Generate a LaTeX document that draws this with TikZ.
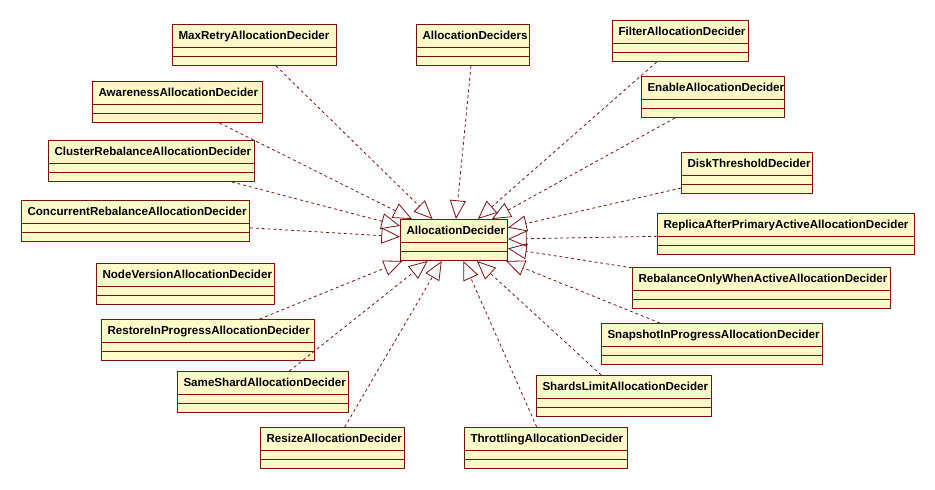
\documentclass[tikz,border=0pt]{standalone}
\usepackage{fontspec}
\setmainfont{Liberation Sans}
\usetikzlibrary{arrows.meta}
\definecolor{umlred}{RGB}{128,16,16}
\definecolor{umlfill}{RGB}{255,251,200}
\hyphenpenalty=10000
\tikzset{
  classbox/.style={draw=umlred, fill=umlfill, line width=0.75pt, anchor=north west,
    text width=#1, align=left, inner xsep=4.5pt, inner ysep=0pt,
    text height=11.25pt, text depth=19.5pt,
    font=\fontsize{8.7}{10}\selectfont\bfseries,
    path picture={
      \draw[umlred, line width=0.75pt] ([yshift=6.75pt]path picture bounding box.south west) -- ([yshift=6.75pt]path picture bounding box.south east);
      \draw[umlred, line width=0.75pt] ([yshift=13.5pt]path picture bounding box.south west) -- ([yshift=13.5pt]path picture bounding box.south east);
    }},
  realize/.style={draw=umlred, line width=0.6pt, dash pattern=on 2.2pt off 2.2pt,
    -{Triangle[open, length=14pt, width=12pt]}}
}
\begin{document}
\begin{tikzpicture}[x=0.75pt, y=-0.75pt]
  \useasboundingbox (0,0) rectangle (935,489);
  % the interface in the middle
  \node[classbox=71.25pt] (decider) at (400,219) {AllocationDecider};
  % top row
  \node[classbox=114pt] (maxretry) at (172,24) {MaxRetryAllocationDecider};
  \node[classbox=75.75pt] (deciders) at (416,24) {AllocationDeciders};
  \node[classbox=93pt] (filter) at (612,20) {FilterAllocationDecider};
  \node[classbox=98.25pt] (enable) at (641,76) {EnableAllocationDecider};
  % left column
  \node[classbox=118.5pt] (awareness) at (92,81) {AwarenessAllocationDecider};
  \node[classbox=145.5pt] (clusterreb) at (48,140) {ClusterRebalanceAllocationDecider};
  \node[classbox=162pt] (concurrent) at (21,200) {ConcurrentRebalanceAllocationDecider};
  \node[classbox=124.5pt] (nodeversion) at (96,263) {NodeVersionAllocationDecider};
  \node[classbox=150.75pt] (restore) at (101,319) {RestoreInProgressAllocationDecider};
  \node[classbox=119.25pt] (sameshard) at (177,371) {SameShardAllocationDecider};
  \node[classbox=99pt] (resize) at (260,427) {ResizeAllocationDecider};
  % right column
  \node[classbox=89.25pt] (disk) at (681,152) {DiskThresholdDecider};
  \node[classbox=183.75pt] (replica) at (657,213) {ReplicaAfterPrimaryActiveAllocationDecider};
  \node[classbox=184.5pt] (rebonly) at (632,267) {RebalanceOnlyWhenActiveAllocationDecider};
  \node[classbox=156.75pt] (snapshot) at (601,323) {SnapshotInProgressAllocationDecider};
  \node[classbox=122.25pt] (shardslimit) at (536,375) {ShardsLimitAllocationDecider};
  \node[classbox=113.25pt] (throttling) at (464,427) {ThrottlingAllocationDecider};
  % realizations
  \draw[realize] (maxretry) -- (decider);
  \draw[realize] (deciders) -- (decider);
  \draw[realize] (filter) -- (decider);
  \draw[realize] (enable) -- (decider);
  \draw[realize] (awareness) -- (decider);
  \draw[realize] (clusterreb) -- (decider);
  \draw[realize] (concurrent) -- (decider);
  \draw[realize] (restore) -- (decider);
  \draw[realize] (sameshard) -- (decider);
  \draw[realize] (resize) -- (decider);
  \draw[realize] (disk) -- (decider);
  \draw[realize] (replica) -- (decider);
  \draw[realize] (rebonly) -- (decider);
  \draw[realize] (snapshot) -- (decider);
  \draw[realize] (shardslimit) -- (decider);
  \draw[realize] (throttling) -- (decider);
\end{tikzpicture}
\end{document}
